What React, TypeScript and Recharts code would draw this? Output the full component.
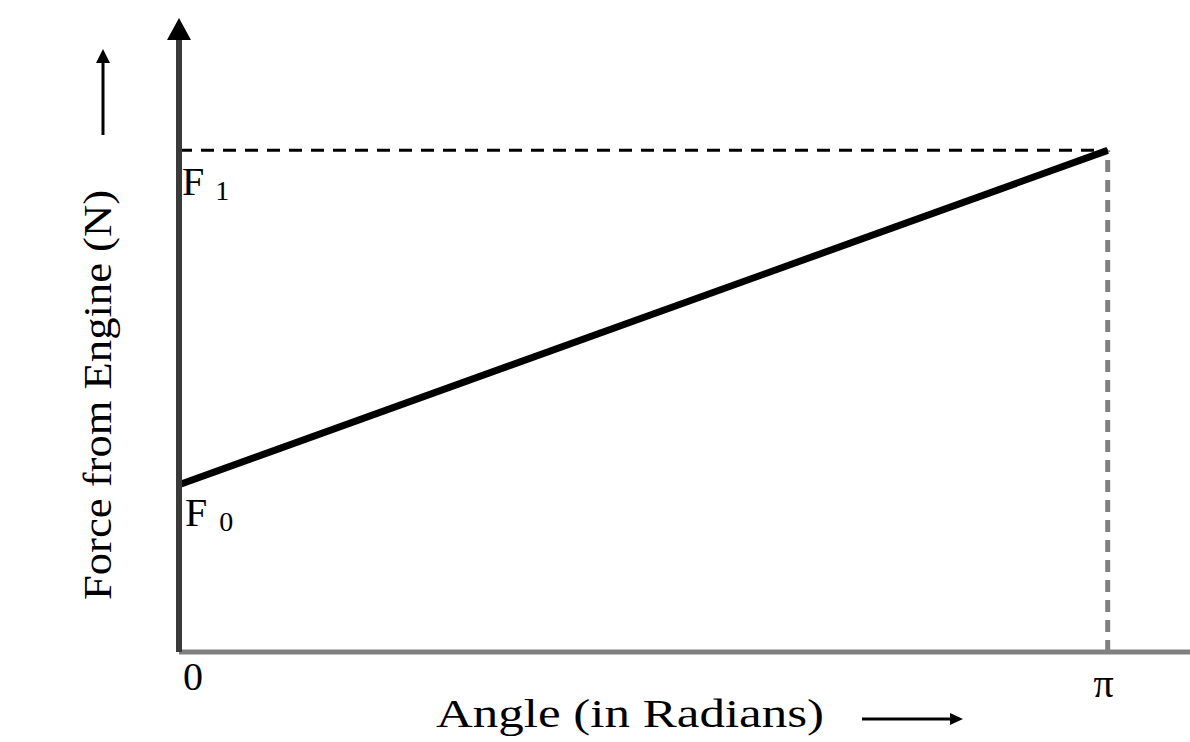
import React from 'react';
import { LineChart, Line, XAxis, YAxis, ReferenceLine, ReferenceDot } from 'recharts';

// angle (radians) vs engine force, arbitrary units: F0 = 1, F1 = 3
const angles = [0, Math.PI];
const forces = [1, 3];
const xTicks = [0, Math.PI];
const xTickLabels = ['0', 'π'];
const xMax = 3.42;
const yMax = 3.66;
const F0 = 1;
const F1 = 3;

const data = angles.map((a, i) => ({ angle: a, force: forces[i] }));

const serif = { fontFamily: "'Liberation Serif', 'DejaVu Serif', serif" };

// per tick nudges so "0" and "π" sit like the original
const tickDx = [14, -4];
const tickDy = [38, 45];

const XTick = (props: any) => {
  const { x, y, index, payload } = props;
  return (
    <text x={x + tickDx[index]} y={y + tickDy[index]} textAnchor="middle" style={serif} fontSize={40} fill="#000">
      {xTickLabels[xTicks.indexOf(payload.value)]}
    </text>
  );
};

const YAxisLabel = (props: any) => {
  const { x, y, width } = props.viewBox;
  const axisX = x + width;
  return (
    <g>
      {/* arrowhead on top of the axis */}
      <polygon points={`${axisX},${y - 22} ${axisX - 12},${y} ${axisX + 12},${y}`} fill="#000" />
      <text
        x={0}
        y={0}
        transform={`translate(${x + 11} ${y + 560}) rotate(-90)`}
        textAnchor="start"
        style={serif}
        fontSize={40}
        fill="#000"
        textLength={410}
        lengthAdjust="spacingAndGlyphs"
      >
        Force from Engine (N)
      </text>
      <line x1={x + 3} y1={y + 95} x2={x + 3} y2={y + 20} stroke="#000" strokeWidth={3} />
      <polygon points={`${x + 3},${y + 9} ${x - 4},${y + 23} ${x + 10},${y + 23}`} fill="#000" />
    </g>
  );
};

const XAxisLabel = (props: any) => {
  const { y } = props.viewBox;
  return (
    <g>
      <text x={436} y={y + 75} textAnchor="start" style={serif} fontSize={40} fill="#000" textLength={388} lengthAdjust="spacingAndGlyphs">
        Angle (in Radians)
      </text>
      <line x1={862} y1={y + 67} x2={952} y2={y + 67} stroke="#000" strokeWidth={3} />
      <polygon points={`${963},${y + 67} ${950},${y + 61} ${950},${y + 73}`} fill="#000" />
    </g>
  );
};

const levelLabel = (sub: string, dx: number, dy: number, subDx: number) => (props: any) => {
  const { x, y } = props.viewBox;
  return (
    <text x={x + dx} y={y + dy} style={serif} fontSize={40} fill="#000">
      F
      <tspan fontSize={28} dx={subDx} dy={5}>{sub}</tspan>
    </text>
  );
};

export default function App() {
  return (
    <div style={{ position: 'absolute', left: 0, top: 0, width: 1190, height: 742, background: '#fff' }}>
      <LineChart width={1190} height={742} data={data} margin={{ top: 40, right: 0, bottom: 0, left: 100 }}>
        <XAxis
          type="number"
          dataKey="angle"
          domain={[0, xMax]}
          ticks={xTicks}
          interval={0}
          height={90}
          axisLine={{ stroke: '#808080', strokeWidth: 5 }}
          tickLine={false}
          tickSize={0}
          tickMargin={0}
          tick={<XTick />}
          label={<XAxisLabel />}
        />
        <YAxis
          type="number"
          domain={[0, yMax]}
          width={79}
          axisLine={{ stroke: '#3a3a3a', strokeWidth: 6 }}
          tick={false}
          tickLine={false}
          label={<YAxisLabel />}
        />
        <ReferenceLine
          segment={[{ x: 0, y: F1 }, { x: Math.PI, y: F1 }]}
          stroke="#000"
          strokeWidth={3}
          strokeDasharray="13 9"
        />
        <ReferenceLine
          segment={[{ x: Math.PI, y: 0 }, { x: Math.PI, y: F1 }]}
          stroke="#808080"
          strokeWidth={5}
          strokeDasharray="12 8"
        />
        <Line type="linear" dataKey="force" stroke="#000" strokeWidth={7} dot={false} isAnimationActive={false} />
        <ReferenceDot x={0} y={F1} r={0} fill="none" stroke="none" label={levelLabel('1', 3, 45, 11)} />
        <ReferenceDot x={0} y={F0} r={0} fill="none" stroke="none" label={levelLabel('0', 6, 41, 12)} />
      </LineChart>
    </div>
  );
}
